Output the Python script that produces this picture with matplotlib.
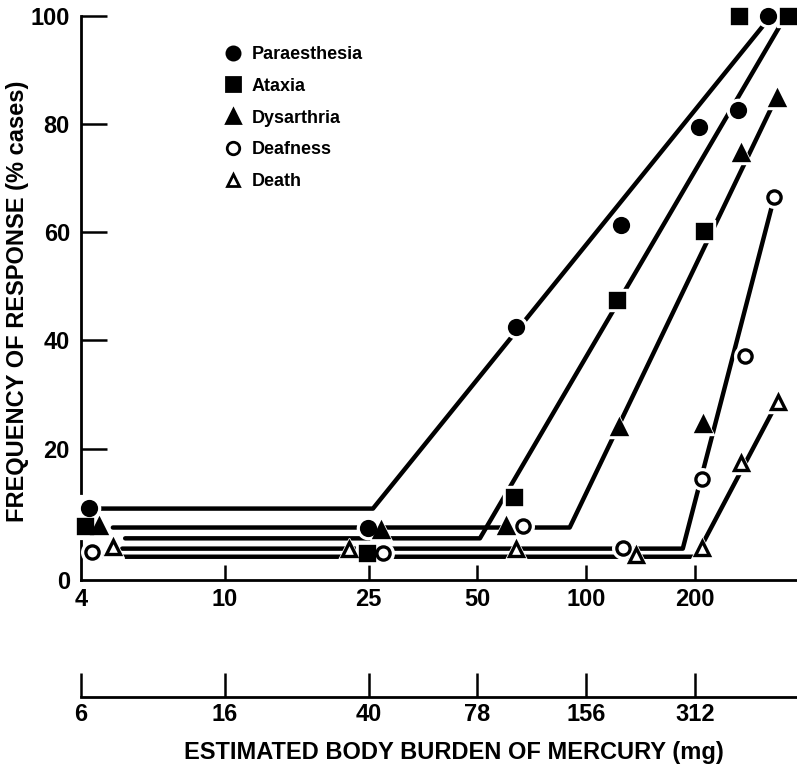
import numpy as np
import matplotlib
matplotlib.use("Agg")
import matplotlib.pyplot as plt
from matplotlib.lines import Line2D

plt.rcParams["font.family"] = ["Liberation Sans", "DejaVu Sans"]
plt.rcParams["font.weight"] = "bold"

# upper scale (dose units) and the matching body burden labels (mg)
dose_ticks = [4, 10, 25, 50, 100, 200]
burden_labels = ["6", "16", "40", "78", "156", "312"]
y_ticks = [20, 40, 60, 80, 100]

# observed frequencies (% cases)
para_x = [4.2, 24.9, 64, 125, 205, 263, 318]
para_y = [9.0, 5.4, 42.4, 61.3, 79.4, 82.5, 100]
ataxia_x = [4.1, 24.8, 63, 122, 212, 265, 362]
ataxia_y = [5.6, 0.6, 11.0, 47.4, 60.2, 100, 100]
dys_x = [4.5, 27, 60, 123, 210, 268, 337]
dys_y = [5.6, 5.0, 5.7, 23.9, 24.5, 74.7, 84.8]
deaf_x = [4.3, 27.4, 67, 126, 209, 275, 331]
deaf_y = [0.8, 0.6, 5.6, 1.6, 14.3, 37.1, 66.4]
death_x = [4.9, 22.1, 64, 137, 209, 268, 339]
death_y = [1.8, 1.4, 1.4, 0.3, 1.6, 17.3, 28.6]

# fitted hockey-stick lines: start, bend, end
para_fit_x = [4.5, 25.7, 310]
para_fit_y = [8.9, 8.9, 98.3]
ataxia_fit_x = [5.3, 50.8, 344]
ataxia_fit_y = [3.4, 3.4, 98.2]
dys_fit_x = [4.9, 90, 333]
dys_fit_y = [5.4, 5.4, 84.4]
deaf_fit_x = [5.2, 185, 327]
deaf_fit_y = [1.5, 1.5, 65]
death_fit_x = [4.6, 201, 331]
death_fit_y = [0, 0, 27.4]

series = [
    ("Paraesthesia", para_x, para_y, para_fit_x, para_fit_y, "o", "black", 10),
    ("Ataxia", ataxia_x, ataxia_y, ataxia_fit_x, ataxia_fit_y, "s", "black", 10),
    ("Dysarthria", dys_x, dys_y, dys_fit_x, dys_fit_y, "^", "black", 10),
    ("Deafness", deaf_x, deaf_y, deaf_fit_x, deaf_fit_y, "o", "white", 9.5),
    ("Death", death_x, death_y, death_fit_x, death_fit_y, "^", "white", 9.5),
]

W, H = 797, 773
fig = plt.figure(figsize=(W / 100, H / 100), dpi=100)
ax = fig.add_axes([81 / W, 1 - 580 / H, 716 / W, (580 - 15.7) / H])

y_floor = -4.3
ax.set_xscale("log")
ax.set_xlim(4, 383)
ax.set_ylim(y_floor, 100)

handles = []
for name, xs, ys, fx, fy, mk, fc, ms in series:
    ax.plot(fx, fy, color="black", lw=3.2, solid_capstyle="round",
            solid_joinstyle="round", zorder=2, clip_on=False)
    # white halo so the lines break around the symbols
    ax.plot(xs, ys, ls="none", marker=mk, ms=ms + 6, mfc="white", mec="white",
            zorder=3, clip_on=False)
    ax.plot(xs, ys, ls="none", marker=mk, ms=ms, mfc=fc, mec="black",
            mew=2.4, zorder=4, clip_on=False)
    handles.append(Line2D([], [], ls="none", marker=mk, ms=ms - 0.5, mfc=fc,
                          mec="black", mew=2.0, label=name))

for s in ["top", "right"]:
    ax.spines[s].set_visible(False)
ax.spines["left"].set_linewidth(2)
ax.spines["bottom"].set_linewidth(2)
ax.spines["left"].set_bounds(11.7, 100)
ax.axvline(4, ymin=0, ymax=(3.0 - y_floor) / (100 - y_floor), color="black",
           lw=2, clip_on=False)

ax.set_xticks(dose_ticks)
ax.set_xticklabels([str(t) for t in dose_ticks])
ax.xaxis.set_minor_locator(matplotlib.ticker.NullLocator())
ax.set_yticks([y_floor] + y_ticks)
ax.set_yticklabels(["0"] + [str(t) for t in y_ticks])
ax.tick_params(axis="x", direction="in", length=11, width=1.8, pad=6,
               labelsize=17)
ax.tick_params(axis="y", direction="in", length=19, width=1.8, pad=8,
               labelsize=17)
ax.yaxis.get_major_ticks()[0].tick1line.set_visible(False)
ax.xaxis.get_major_ticks()[0].tick1line.set_visible(False)

ax.legend(handles=handles, loc="upper left", bbox_to_anchor=(224 / W, 1 - 46 / H),
          bbox_transform=fig.transFigure, frameon=False, borderpad=0,
          borderaxespad=0, handlelength=1.0, handletextpad=0.55,
          labelspacing=0.82, prop={"weight": "bold", "size": 13})

# lower scale: body burden
ax2 = fig.add_axes([81 / W, 1 - 697 / H, 716 / W, 0.05])
ax2.set_xscale("log")
ax2.set_xlim(4, 383)
ax2.set_ylim(0, 1)
for s in ["top", "right", "left"]:
    ax2.spines[s].set_visible(False)
ax2.spines["bottom"].set_linewidth(2)
ax2.set_yticks([])
ax2.set_xticks(dose_ticks)
ax2.set_xticklabels(burden_labels)
ax2.xaxis.set_minor_locator(matplotlib.ticker.NullLocator())
ax2.tick_params(axis="x", direction="in", length=17, width=1.8, pad=4,
                labelsize=17)
ax2.patch.set_visible(False)

fig.text(18 / W, 1 - 301 / H, "FREQUENCY OF RESPONSE (% cases)", rotation=90,
         ha="center", va="center", fontsize=17, fontweight="bold")
fig.text(454 / W, 1 - 753 / H, "ESTIMATED BODY BURDEN OF MERCURY (mg)",
         ha="center", va="center", fontsize=17, fontweight="bold")

fig.savefig("out.png", dpi=100)
